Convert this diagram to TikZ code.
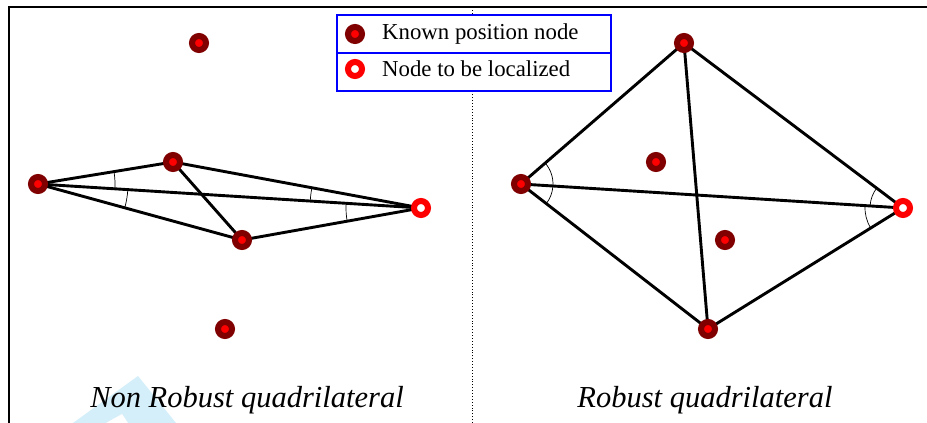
\documentclass[tikz,border=0pt]{standalone}
\usepackage{fontspec}
\setmainfont{Liberation Serif}
\usetikzlibrary{angles}
\definecolor{darkred}{RGB}{128,0,0}
\definecolor{pureRed}{RGB}{255,0,0}
\definecolor{legblue}{RGB}{0,0,255}
\definecolor{wmblue}{RGB}{212,238,250}
\tikzset{
  known/.style={circle,draw=darkred,line width=6pt,fill=pureRed,minimum size=14pt,inner sep=0pt},
  target/.style={circle,draw=pureRed,line width=6pt,fill=white,minimum size=14pt,inner sep=0pt},
  edge/.style={line width=2.9pt,black},
  anglearc/.style={draw,line width=0.7pt},
  caption/.style={font=\fontsize{30.5}{34}\selectfont\itshape,anchor=base},
  legtext/.style={font=\fontsize{22.8}{26}\selectfont,anchor=west,inner sep=0pt},
  frame/.style={line width=2.9pt,black}
}
\begin{document}
\begin{tikzpicture}[x=1pt,y=1pt]
\useasboundingbox (0,0) rectangle (927,423);
% watermark
\fill[wmblue] (73,0) -- (138,47) -- (176,0) -- cycle;
\fill[white] (106,0) -- (122,9) -- (128,0) -- cycle;
% frame
\draw[frame] (9,0) -- (9,416) -- (927,416);
\draw[line width=0.9pt,dotted] (472,0) -- (472,414);
% coordinates
\coordinate (aL) at (38,239);
\coordinate (aU) at (173,261);
\coordinate (aW) at (242,183);
\coordinate (aT) at (421,215);
\coordinate (aTop) at (199,380);
\coordinate (aBot) at (225,94);
\coordinate (bL) at (521,239);
\coordinate (bP) at (684,380);
\coordinate (bI1) at (656,261);
\coordinate (bI2) at (725,183);
\coordinate (bT) at (903,215);
\coordinate (bB) at (708,94);
% edges left
\draw[edge] (aL) -- (aU);
\draw[edge] (aL) -- (aT);
\draw[edge] (aL) -- (aW);
\draw[edge] (aU) -- (aT);
\draw[edge] (aU) -- (aW);
\draw[edge] (aW) -- (aT);
% edges right
\draw[edge] (bL) -- (bP);
\draw[edge] (bP) -- (bT);
\draw[edge] (bP) -- (bB);
\draw[edge] (bL) -- (bT);
\draw[edge] (bL) -- (bB);
\draw[edge] (bB) -- (bT);
% angle arcs
\pic[anglearc,angle radius=77pt] {angle=aT--aL--aU};
\pic[anglearc,angle radius=90pt] {angle=aW--aL--aT};
\pic[anglearc,angle radius=111pt] {angle=aU--aT--aL};
\pic[anglearc,angle radius=75pt] {angle=aL--aT--aW};
\pic[anglearc,angle radius=32pt] {angle=bT--bL--bP};
\pic[anglearc,angle radius=32pt] {angle=bB--bL--bT};
\pic[anglearc,angle radius=33pt] {angle=bP--bT--bL};
\pic[anglearc,angle radius=38pt] {angle=bL--bT--bB};
% nodes
\node[known] (nL) at (aL) {};
\node[known] (nU) at (aU) {};
\node[known] (nW) at (aW) {};
\node[target] (nT) at (aT) {};
\node[known] (nTop) at (aTop) {};
\node[known] (nBot) at (aBot) {};
\node[known] (mL) at (bL) {};
\node[known] (mP) at (bP) {};
\node[known] (mI1) at (bI1) {};
\node[known] (mI2) at (bI2) {};
\node[target] (mT) at (bT) {};
\node[known] (mB) at (bB) {};
% legend
\draw[legblue,line width=1.5pt,fill=white] (337,332) rectangle (611,408);
\draw[legblue,line width=1.5pt] (337,370) -- (611,370);
\node[known] (lk) at (355,389) {};
\node[target] (lt) at (355,354) {};
\node[legtext] (lkt) at (382,389) {Known position node};
\node[legtext] (ltt) at (382,354) {Node to be localized};
% captions
\node[caption] (c1) at (247,15) {Non Robust quadrilateral};
\node[caption] (c2) at (705,15) {Robust quadrilateral};
\end{tikzpicture}
\end{document}
